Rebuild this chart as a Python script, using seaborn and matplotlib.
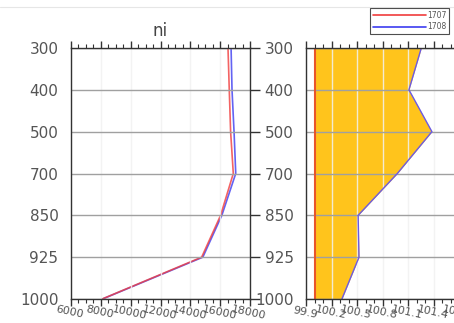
import numpy as np
import pandas as pd
import matplotlib
matplotlib.use("Agg")
import matplotlib.pyplot as plt
from matplotlib.lines import Line2D
from matplotlib.ticker import MultipleLocator
import seaborn as sns

# pressure levels (hPa), evenly spaced on the vertical axis
levels = [300, 400, 500, 700, 850, 925, 1000]
# ni profiles for the two runs
ni_1707 = [16525, 16610, 16700, 16880, 16030, 14760, 8090]
ni_1708 = [16732, 16794, 16930, 17044, 16112, 14837, 8116]
series_names = ["1707", "1708"]
series_colors = ["#f03c3c", "#3c3cf0"]

left_ticks = [6000, 8000, 10000, 12000, 14000, 16000, 18000]
right_ticks = [99.9, 100.2, 100.5, 100.8, 101.1, 101.4, 101.7, 102.0]

pos = np.arange(len(levels))
ratio = np.array(ni_1708) / np.array(ni_1707) * 100.0

df = pd.concat([
    pd.DataFrame({"pos": pos, "ni": ni_1708, "run": "1708"}),
    pd.DataFrame({"pos": pos, "ni": ni_1707, "run": "1707"}),
])
df_ratio = pd.DataFrame({"pos": pos, "ratio": ratio})

sns.set_style("white")
plt.rcParams["font.family"] = ["DejaVu Sans"]

fig = plt.figure(figsize=(4.54, 3.23), dpi=100)
W, H = 454, 323
ax1 = fig.add_axes([71 / W, (H - 299) / H, 179 / W, 251 / H])
ax2 = fig.add_axes([306 / W, (H - 299) / H, 179 / W, 251 / H])

label_col = "#555555"
spine_col = "#333333"

# left panel: absolute profiles
sns.lineplot(data=df, x="ni", y="pos", hue="run", orient="y", sort=False,
             palette={"1707": series_colors[0], "1708": series_colors[1]},
             hue_order=["1708", "1707"], lw=1.2, alpha=0.8, legend=False, ax=ax1)
ax1.set_xlim(left_ticks[0], left_ticks[-1])
ax1.set_xticks(left_ticks)
ax1.set_xticklabels([str(t) for t in left_ticks])
ax1.xaxis.set_minor_locator(MultipleLocator(500))
ax1.set_title("ni", fontsize=12, color="#444444", pad=9)

# right panel: 1708 relative to 1707 (percent)
ax2.fill_betweenx(pos, 100.0, ratio, color="#ffc41c", lw=0, zorder=1)
ax2.axvline(100.0, color="#e8552a", lw=1.5, zorder=4)
sns.lineplot(data=df_ratio, x="ratio", y="pos", orient="y", sort=False,
             color="#6a5ae6", lw=1.0, ax=ax2, zorder=4)
ax2.set_xlim(right_ticks[0], right_ticks[-1])
ax2.set_xticks(right_ticks)
ax2.set_xticklabels([f"{t:.1f}" for t in right_ticks])
ax2.xaxis.set_minor_locator(MultipleLocator(0.1))

for ax in (ax1, ax2):
    ax.set_ylim(len(levels) - 1, 0)
    ax.set_yticks(pos)
    ax.set_yticklabels([str(l) for l in levels])
    ax.set_xlabel("")
    ax.set_ylabel("")
    ax.set_axisbelow(False)
    ax.grid(axis="y", color="#a0a0a0", lw=1.0, zorder=3)
    ax.grid(axis="x", color="#f2f2f2", lw=1.0, alpha=0.85, zorder=3)
    for s in ax.spines.values():
        s.set_color(spine_col)
        s.set_linewidth(1.0)
        s.set_zorder(6)
    ax.tick_params(axis="y", which="major", direction="out", length=7, width=1,
                   color=spine_col, labelsize=11, labelcolor=label_col, pad=2)
    ax.tick_params(axis="x", which="both", top=True, bottom=True, direction="out",
                   color=spine_col, labelsize=8, labelcolor=label_col, pad=1)
    ax.tick_params(axis="x", which="major", length=5, width=1)
    ax.tick_params(axis="x", which="minor", length=3, width=0.8)
    for lab in ax.get_xticklabels():
        lab.set_rotation(-12)
        lab.set_ha("center")
        lab.set_rotation_mode("anchor")
        lab.set_va("top")

ax1.tick_params(axis="y", right=True, which="major")
ax2.spines["right"].set_visible(False)

handles = [Line2D([], [], color=c, lw=1.2) for c in series_colors]
fig.legend(handles, series_names, loc="upper right",
           bbox_to_anchor=(449 / W, 1 - 8 / H), fontsize=5.5,
           frameon=True, fancybox=False, edgecolor="#222222",
           handlelength=7.0, handletextpad=0.1, borderpad=0.35,
           labelspacing=0.35, borderaxespad=0)
fig.legends[0].get_frame().set_linewidth(0.8)
for t in fig.legends[0].get_texts():
    t.set_color("#555555")

fig.add_artist(Line2D([0, 1], [1 - 7 / H, 1 - 7 / H], color="#e6e6e6", lw=0.8))

fig.savefig("out.png", dpi=100)
